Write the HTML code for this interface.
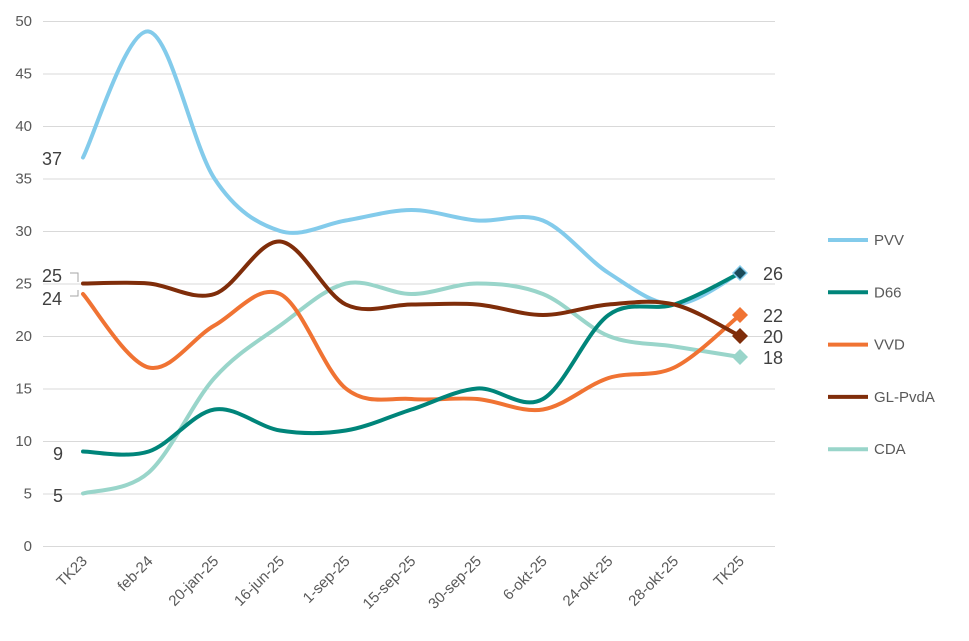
<!DOCTYPE html>
<html><head><meta charset="utf-8"><style>
body{margin:0;background:#fff}
svg text{font-family:"Liberation Sans",sans-serif}
</style></head><body>
<svg id="s" width="969" height="636" xmlns="http://www.w3.org/2000/svg">
<g id="grid" stroke="#d9d9d9" stroke-width="1"></g>
<g id="ylab" font-size="15" fill="#595959" text-anchor="end"></g>
<g id="xlab" font-size="15" fill="#595959" text-anchor="end"></g>
<g id="lines" fill="none" stroke-width="4" stroke-linecap="round"></g>
<g id="lab" font-size="18" fill="#404040"></g>
<g id="leg" font-size="15" fill="#595959"></g>
</svg>
<script>
var NS="http://www.w3.org/2000/svg";
function el(p,t,a,txt){var e=document.createElementNS(NS,t);for(var k in a)e.setAttribute(k,a[k]);if(txt!=null)e.textContent=txt;document.getElementById(p).appendChild(e);return e;}
function Y(v){return 546-v*10.5;}
function X(i){return 83+i*65.7;}
for(var v=0;v<=50;v+=5){el("grid","line",{x1:43,x2:775,y1:Y(v)+.5,y2:Y(v)+.5});el("ylab","text",{x:32,y:Y(v)+5},v);}
var xl=["TK23","feb-24","20-jan-25","16-jun-25","1-sep-25","15-sep-25","30-sep-25","6-okt-25","24-okt-25","28-okt-25","TK25"];
xl.forEach(function(t,i){el("xlab","text",{transform:"translate("+(X(i)+5)+",562) rotate(-45)"},t);});
var S=[
["PVV","#83cbeb",[37,49,35,30,31,32,31,31,26,23,26]],
["D66","#00857a",[9,9,13,11,11,13,15,14,22,23,26]],
["VVD","#f07333",[24,17,21,24,15,14,14,13,16,17,22]],
["GL-PvdA","#7f2d0a",[25,25,24,29,23,23,23,22,23,23,20]],
["CDA","#99d5ca",[5,7,16,21,25,24,25,24,20,19,18]]];
var order=[4,0,3,2,1];
function path(d){var p=d.map(function(v,i){return [X(i),Y(v)];});var s="M"+p[0][0]+","+p[0][1];
for(var i=0;i<p.length-1;i++){var p0=p[i-1]||p[i],p1=p[i],p2=p[i+1],p3=p[i+2]||p2;
var c1=[p1[0]+(p2[0]-p0[0])/6,p1[1]+(p2[1]-p0[1])/6],c2=[p2[0]-(p3[0]-p1[0])/6,p2[1]-(p3[1]-p1[1])/6];
s+=" C"+c1+" "+c2+" "+p2;}return s;}
[0,4,2,1,3].forEach(function(k){var s=S[k];el("lines","path",{d:path(s[2]),stroke:s[1]});});
// markers
[[4,"#99d5ca"],[3,"#7f2d0a"],[2,"#f07333"],[0,"#83cbeb"]].forEach(function(m){var s=S[m[0]];var x=X(10),y=Y(s[2][10]);
el("lines","path",{d:"M"+x+","+(y-8)+" L"+(x+8)+","+y+" L"+x+","+(y+8)+" L"+(x-8)+","+y+"Z",fill:m[1],stroke:"none"});});
var x=X(10),y=Y(26);el("lines","path",{d:"M"+x+","+(y-6)+" L"+(x+6)+","+y+" L"+x+","+(y+6)+" L"+(x-6)+","+y+"Z",fill:"#1a4b5a",stroke:"none"});
// labels
[["37",42,165],["25",42,282],["24",42,305],["9",53,460],["5",53,502],["26",763,280],["22",763,322],["20",763,343],["18",763,364]].forEach(function(l){el("lab","text",{x:l[1],y:l[2]},l[0]);});
el("lab","path",{d:"M70,273 H78 V282",stroke:"#a6a6a6",fill:"none","stroke-width":1});
el("lab","path",{d:"M70,296 H78 V290",stroke:"#a6a6a6",fill:"none","stroke-width":1});
S.forEach(function(s,i){var y=240+i*52.3;el("leg","line",{x1:828,x2:868,y1:y,y2:y,stroke:s[1],"stroke-width":4});el("leg","text",{x:874,y:y+5},s[0]);});
</script>
</body></html>
